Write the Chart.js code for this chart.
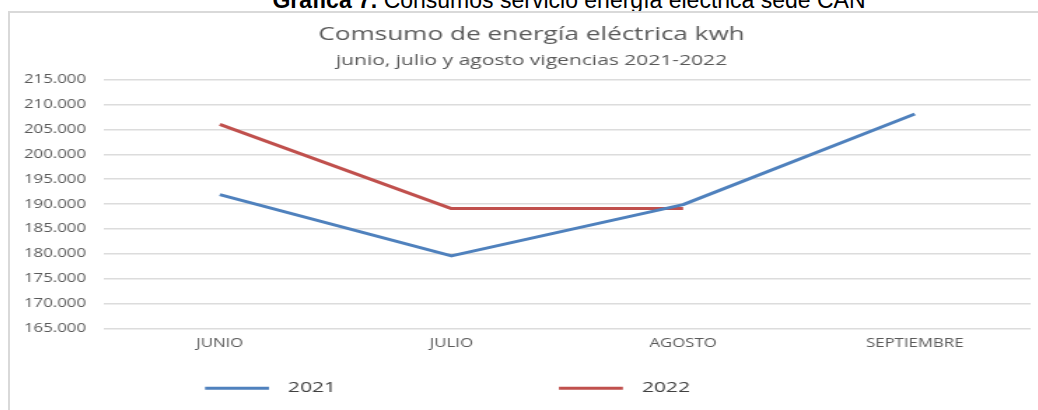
<!DOCTYPE html>
<html><head><meta charset="utf-8">
<script src="https://cdn.jsdelivr.net/npm/chart.js@4"></script>
<style>
html,body{margin:0;padding:0;background:#fff;width:1038px;height:410px;overflow:hidden;}
#heading{position:absolute;left:0;top:-11.5px;width:1038px;padding-left:100px;box-sizing:border-box;text-align:center;font:23px/23px "Liberation Sans",Arial,sans-serif;color:#000;white-space:nowrap;}
#box{position:absolute;left:8px;top:11px;width:1040px;height:410px;border:2px solid #d9d9d9;background:#fff;z-index:1;}
#wrap{position:absolute;left:0;top:0;width:734px;height:397px;transform:scaleX(1.4);transform-origin:0 0;}
</style></head><body>
<div id="heading"><b>Gráfica 7.</b> Consumos servicio energía eléctrica sede CAN</div>
<div id="box"><div id="wrap"><canvas id="c" width="734" height="397" style="width:734px;height:397px"></canvas></div></div>
<script>
const categories = ['JUNIO', 'JULIO', 'AGOSTO', 'SEPTIEMBRE'];
const seriesNames = ['2021', '2022'];
const values2021 = [191900, 179600, 189900, 208100];
const values2022 = [206000, 189100, 189100, null];
const yMin = 165000, yMax = 215000, yStep = 5000;
const titleText = 'Comsumo de energía eléctrica kwh';
const subtitleText = 'junio, julio y agosto vigencias 2021-2022';

const fmt = v => Math.round(v).toString().replace(/\B(?=(\d{3})+(?!\d))/g, '.');

const fixedLegend = {
  id: 'fixedLegend',
  afterLayout(chart) {
    // let the y tick labels use the full left margin (avoid clipping)
    chart.scales.y.left = 0;
  },
  afterDraw(chart, args, opts) {
    const ctx = chart.ctx;
    ctx.save();
    chart.data.datasets.forEach((ds, i) => {
      const x = opts.x[i], y = opts.y;
      ctx.strokeStyle = ds.borderColor;
      ctx.lineWidth = ds.borderWidth;
      ctx.lineCap = 'butt';
      ctx.beginPath(); ctx.moveTo(x, y); ctx.lineTo(x + opts.lineLength, y); ctx.stroke();
      ctx.fillStyle = opts.color;
      ctx.font = opts.font;
      ctx.textBaseline = 'middle';
      ctx.textAlign = 'left';
      ctx.fillText(ds.label, x + opts.lineLength + opts.gap, y);
    });
    ctx.restore();
  }
};

const FONT = "'Open Sans', sans-serif";
const GREY = '#595959';

new Chart(document.getElementById('c'), {
  type: 'line',
  data: {
    labels: categories,
    datasets: [
      { label: seriesNames[0], data: values2021, borderColor: '#4F81BD', backgroundColor: '#4F81BD', borderWidth: 3, pointRadius: 0, tension: 0, borderJoinStyle: 'round' },
      { label: seriesNames[1], data: values2022, borderColor: '#C0504D', backgroundColor: '#C0504D', borderWidth: 3, pointRadius: 0, tension: 0, borderJoinStyle: 'round' }
    ]
  },
  plugins: [fixedLegend],
  options: {
    responsive: false,
    animation: false,
    devicePixelRatio: 1,
    layout: { padding: { left: 16, right: 5, top: 0, bottom: 51 } },
    plugins: {
      legend: { display: false },
      tooltip: { enabled: false },
      title: { display: true, text: titleText, color: GREY, font: { family: FONT, size: 18.7, weight: 'normal' }, padding: { top: 10.5, bottom: 0 } },
      subtitle: { display: true, text: subtitleText, color: GREY, font: { family: FONT, size: 15, weight: 'normal' }, padding: { top: 5.5, bottom: 10.2 } },
      fixedLegend: { x: [139.3, 392.1], y: 375.2, lineLength: 45.7, gap: 13.6, color: '#404040', font: "15px 'Open Sans', sans-serif" }
    },
    scales: {
      x: {
        offset: true,
        grid: { display: false, drawTicks: false },
        border: { display: false },
        ticks: { color: GREY, padding: 8, font: { family: FONT, size: 12 }, maxRotation: 0, autoSkip: false }
      },
      y: {
        min: yMin, max: yMax,
        afterFit(scale) { scale.width = 51.1; },
        grid: { color: '#dcdcdc', lineWidth: 1.5, drawTicks: false },
        border: { display: false },
        ticks: { stepSize: yStep, color: GREY, padding: 12.8, font: { family: FONT, size: 12 }, callback: v => fmt(v) }
      }
    }
  }
});
</script>
</body></html>
